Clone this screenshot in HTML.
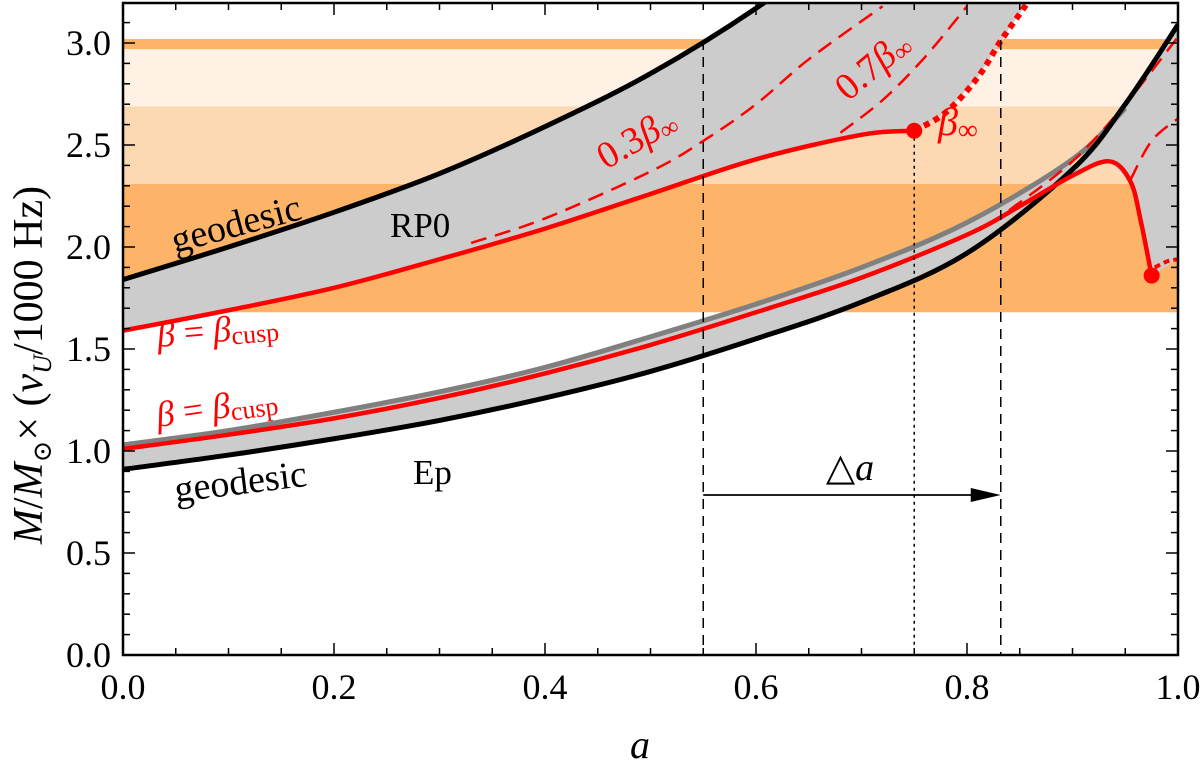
<!DOCTYPE html>
<html><head><meta charset="utf-8"><style>
html,body{margin:0;padding:0;background:#fff;}
svg, svg text{font-family:"Liberation Serif","DejaVu Serif",serif;}
</style></head><body>
<svg id="chart" width="1200" height="766" viewBox="0 0 1200 766" xmlns="http://www.w3.org/2000/svg" style="position:absolute;left:0;top:0"></svg>
<script>
const xTicks=[0,0.2,0.4,0.6,0.8,1.0];
const xTickLabels=["0.0","0.2","0.4","0.6","0.8","1.0"];
const yTicks=[0,0.5,1.0,1.5,2.0,2.5,3.0];
const yTickLabels=["0.0","0.5","1.0","1.5","2.0","2.5","3.0"];
const bandLow=[1.68,2.31,2.69,2.97];
const bandHigh=[2.31,2.69,2.97,3.02];
const bandColors=["#fdb468","#fdd9b3","#fff1e3","#fdb468"];
const geoRP0A=[0,0.1,0.2,0.3,0.4,0.5,0.6,0.7];
const geoRP0M=[1.84,2.00,2.17,2.36,2.59,2.85,3.17,3.55];
const cuspRP0A=[0,0.1,0.2,0.3,0.4,0.5,0.6,0.7,0.75];
const cuspRP0M=[1.59,1.69,1.80,1.94,2.09,2.26,2.43,2.55,2.57];
const infA=[0.75,0.78,0.81,0.832,0.855,0.87];
const infM=[2.57,2.66,2.83,3.01,3.18,3.3];
const d03A=[0.33,0.4,0.5,0.55,0.6,0.65,0.72];
const d03M=[2.02,2.14,2.37,2.52,2.70,2.92,3.18];
const d07A=[0.68,0.72,0.76,0.80];
const d07M=[2.56,2.72,2.93,3.18];
const geoEpA=[0,0.1,0.2,0.3,0.4,0.5,0.6,0.7,0.8,0.9,0.95,1.0];
const geoEpM=[0.91,0.98,1.06,1.15,1.26,1.39,1.55,1.73,1.97,2.38,2.70,3.09];
const grayEpA=[0,0.1,0.2,0.3,0.4,0.5,0.6,0.7,0.8,0.9,0.95];
const grayEpM=[1.03,1.10,1.19,1.29,1.41,1.56,1.72,1.90,2.12,2.43,2.68];
const cuspEpA=[0,0.1,0.2,0.3,0.4,0.5,0.6,0.7,0.8,0.85,0.9,0.935,0.955,0.965,0.975];
const cuspEpM=[1.01,1.08,1.16,1.26,1.38,1.52,1.68,1.85,2.06,2.20,2.35,2.42,2.32,2.12,1.86];
const dEp1A=[0.84,0.9,0.95,1.0];
const dEp1M=[2.18,2.42,2.70,3.03];
const dEp2A=[0.955,0.975,1.0];
const dEp2M=[2.33,2.52,2.63];
const dEp3A=[0.978,0.99,1.0];
const dEp3M=[1.90,1.93,1.94];
const dotsA=[0.75,0.975];
const dotsM=[2.57,1.86];
const vDashA=[0.55,0.832];
const vDotA=[0.75];

const X0=123,X1=1178,Y0=655,YT=3,PPU=204;
const sx=a=>X0+a*(X1-X0);
const sy=m=>Y0-m*PPU;
const NS="http://www.w3.org/2000/svg";
const FONT="font-family:'Liberation Serif','DejaVu Serif',serif";
const svg=document.getElementById('chart');
function mk(t,at,parent){const e=document.createElementNS(NS,t);for(const k in at)e.setAttribute(k,at[k]);(parent||svg).appendChild(e);return e;}
function pts(A,M){return A.map((a,i)=>[sx(a),sy(M[i])]);}
function cr(p){let d="M"+p[0][0]+","+p[0][1];for(let i=0;i<p.length-1;i++){const p0=p[i-1]||p[i],p1=p[i],p2=p[i+1],p3=p[i+2]||p2;
const c1=[p1[0]+(p2[0]-p0[0])/6,p1[1]+(p2[1]-p0[1])/6],c2=[p2[0]-(p3[0]-p1[0])/6,p2[1]-(p3[1]-p1[1])/6];
d+=" C"+c1+" "+c2+" "+p2;}return d;}
function poly(p){return p.map(q=>q.join(",")).join(" ");}

const defs=mk('defs',{});const cp=mk('clipPath',{id:'clip'},defs);mk('rect',{x:X0,y:YT,width:X1-X0,height:Y0-YT},cp);
const g=mk('g',{'clip-path':'url(#clip)'});


bandLow.forEach((lo,i)=>{const r=mk('rect',{x:X0,y:sy(bandHigh[i]),width:X1-X0,height:sy(lo)-sy(bandHigh[i]),fill:bandColors[i]},g);

});
let up=pts(geoRP0A,geoRP0M).concat([[sx(0.87),-100]]).concat(pts(infA,infM).reverse()).concat(pts(cuspRP0A,cuspRP0M).reverse());
let f1=mk('polygon',{points:poly(up),fill:'#cccccc'},g);


let lo=pts(geoEpA,geoEpM).concat([[sx(1.0),sy(1.94)]]).concat(pts(cuspEpA.slice(10),cuspEpM.slice(10)).reverse()).concat(pts(grayEpA.slice(0,10),grayEpM.slice(0,10)).reverse());
let f2=mk('polygon',{points:poly(lo),fill:'#cccccc'},g);


function line(A,M,st,name){const e=mk('path',Object.assign({d:cr(pts(A,M)),fill:'none'},st),g);


return e;}
line(grayEpA,grayEpM,{stroke:'#808080','stroke-width':5},'ep-upper-boundary');
line(d03A,d03M,{stroke:'#ff0000','stroke-width':2.5,'stroke-dasharray':'16,9'},'rp0-0.3-beta-inf');
line(d07A,d07M,{stroke:'#ff0000','stroke-width':2.5,'stroke-dasharray':'16,9'},'rp0-0.7-beta-inf');
line(infA,infM,{stroke:'#ff0000','stroke-width':6,'stroke-dasharray':'6,5'},'rp0-beta-inf');
line(dEp1A,dEp1M,{stroke:'#ff0000','stroke-width':2.5,'stroke-dasharray':'16,9'},'ep-dashed-1');
line(dEp2A,dEp2M,{stroke:'#ff0000','stroke-width':2.5,'stroke-dasharray':'16,9'},'ep-dashed-2');
line(dEp3A,dEp3M,{stroke:'#ff0000','stroke-width':4,'stroke-dasharray':'6,4'},'ep-dashed-3');
line(geoRP0A,geoRP0M,{stroke:'#000','stroke-width':5},'rp0-geodesic');
line(geoEpA,geoEpM,{stroke:'#000','stroke-width':5},'ep-geodesic');
line(cuspRP0A,cuspRP0M,{stroke:'#ff0000','stroke-width':4.5},'rp0-beta-cusp');
line(cuspEpA,cuspEpM,{stroke:'#ff0000','stroke-width':4.5},'ep-beta-cusp');
vDashA.forEach(a=>{const e=mk('line',{x1:sx(a),x2:sx(a),y1:40,y2:Y0,stroke:'#000','stroke-width':1.5,'stroke-dasharray':'10,7'},g);

});
vDotA.forEach(a=>{const e=mk('line',{x1:sx(a),x2:sx(a),y1:sy(2.57),y2:Y0,stroke:'#000','stroke-width':1.5,'stroke-dasharray':'3,4'},g);

});
dotsA.forEach((a,i)=>{const e=mk('circle',{cx:sx(a),cy:sy(dotsM[i]),r:8,fill:'#ff0000'},g);

});
const ar=mk('line',{x1:sx(0.55),x2:sx(0.832)-22,y1:495,y2:495,stroke:'#000','stroke-width':1.8});


const ah=mk('polygon',{points:`${sx(0.832)},495 ${sx(0.832)-30},488 ${sx(0.832)-30},502`,fill:'#000'});


const fr=mk('rect',{x:X0,y:YT,width:X1-X0,height:Y0-YT,fill:'none',stroke:'#000','stroke-width':2.5});


for(let k=0;k<=20;k++){const a=k*0.05,L=(k%4==0)?12:7;
mk('line',{x1:sx(a),x2:sx(a),y1:Y0,y2:Y0-L,stroke:'#000','stroke-width':1.5});mk('line',{x1:sx(a),x2:sx(a),y1:YT,y2:YT+L,stroke:'#000','stroke-width':1.5});}
for(let k=0;k<=31;k++){const m=k*0.1,L=(k%5==0)?12:7;
mk('line',{x1:X0,x2:X0+L,y1:sy(m),y2:sy(m),stroke:'#000','stroke-width':1.5});mk('line',{x1:X1,x2:X1-L,y1:sy(m),y2:sy(m),stroke:'#000','stroke-width':1.5});}
xTicks.forEach((a,i)=>{const t=mk('text',{x:sx(a),y:Y0+44,'font-size':36,'text-anchor':'middle',style:FONT});t.textContent=xTickLabels[i];

});
yTicks.forEach((m,i)=>{const t=mk('text',{x:X0-12,y:sy(m)+12,'font-size':36,'text-anchor':'end',style:FONT});t.textContent=yTickLabels[i];

});
</script>
<svg style="position:absolute;left:0;top:0;font-family:'Liberation Serif','DejaVu Serif',serif" width="1200" height="766">
<text x="640" y="758" font-size="40" font-style="italic" text-anchor="middle">a</text>
<text transform="translate(42,365) rotate(-90)" font-size="42" text-anchor="middle"><tspan font-style="italic">M</tspan>/<tspan font-style="italic">M</tspan><tspan font-size="26" dy="9">⊙</tspan><tspan dy="-9">× (</tspan><tspan font-style="italic">ν</tspan><tspan font-style="italic" font-size="26" dy="9">U</tspan><tspan dy="-9">/1000 Hz)</tspan></text>
<text transform="translate(175,253) rotate(-15)" font-size="38">geodesic</text>
<text x="390" y="237" font-size="35">RP0</text>
<text transform="translate(606,170) rotate(-30)" font-size="38" fill="#ff0000">0.3<tspan font-style="italic">β</tspan><tspan font-size="26" dy="4">∞</tspan></text>
<text transform="translate(848,102) rotate(-40)" font-size="38" fill="#ff0000">0.7<tspan font-style="italic">β</tspan><tspan font-size="26" dy="4">∞</tspan></text>
<text x="938" y="135" font-size="40" fill="#ff0000"><tspan font-style="italic">β</tspan><tspan font-size="28" dy="4">∞</tspan></text>
<text transform="translate(158,347) rotate(-5)" font-size="36" fill="#ff0000"><tspan font-style="italic">β</tspan> = <tspan font-style="italic">β</tspan><tspan font-size="26" dy="4">cusp</tspan></text>
<text transform="translate(158,427) rotate(-8)" font-size="36" fill="#ff0000"><tspan font-style="italic">β</tspan> = <tspan font-style="italic">β</tspan><tspan font-size="26" dy="4">cusp</tspan></text>
<text transform="translate(176,502) rotate(-7)" font-size="38">geodesic</text>
<text x="413" y="484" font-size="35">Ep</text>
<text x="850" y="480" font-size="38" text-anchor="middle">△<tspan font-style="italic">a</tspan></text>
</svg>
</body></html>
